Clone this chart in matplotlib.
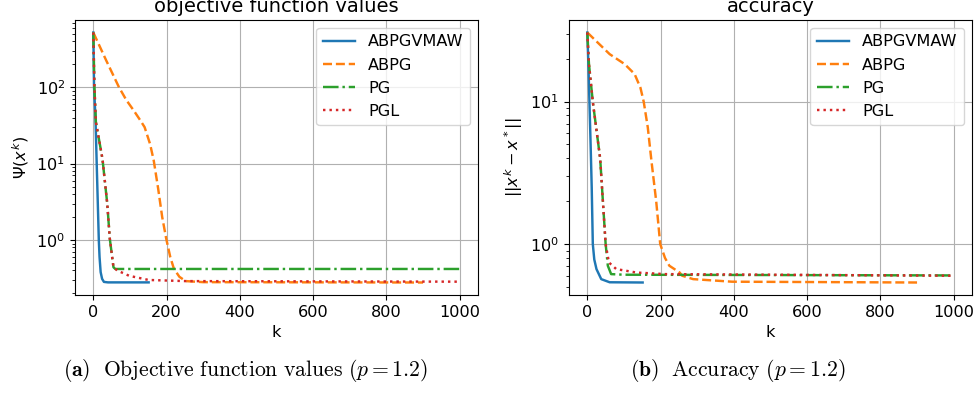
import matplotlib
matplotlib.use("Agg")
import matplotlib.pyplot as plt

# iteration counts and values (p = 1.2)
labels = ["ABPGVMAW", "ABPG", "PG", "PGL"]

# objective function values Psi(x^k)
obj_k_abpgvmaw = [0, 2, 6, 9, 15, 17, 20, 24, 29, 40, 151]
obj_v_abpgvmaw = [520, 100, 38, 11, 1.0, 0.6, 0.38, 0.31, 0.283, 0.279, 0.279]
obj_k_abpg = [0, 35, 70, 90, 111, 128, 140, 155, 165, 177, 188, 199, 210, 220, 235, 252, 300, 900]
obj_v_abpg = [520, 225, 100, 68, 49, 37, 30, 18, 10.9, 4.7, 2.0, 1.04, 0.6, 0.42, 0.33, 0.29, 0.281, 0.278]
obj_k_pg = [0, 3, 7, 25, 38, 45, 55, 60, 1000]
obj_v_pg = [520, 100, 35, 11.5, 3.0, 1.04, 0.44, 0.418, 0.418]
obj_k_pgl = [0, 3, 7, 25, 38, 45, 55, 65, 98, 151, 252, 1000]
obj_v_pgl = [520, 100, 35, 11.5, 3.0, 1.04, 0.44, 0.40, 0.34, 0.30, 0.29, 0.285]

# accuracy ||x^k - x^*||
acc_k_abpgvmaw = [0, 3, 9, 12, 15, 19, 25, 38, 61, 151]
acc_v_abpgvmaw = [30.5, 18, 5.0, 2.5, 1.0, 0.78, 0.668, 0.568, 0.54, 0.538]
acc_k_abpg = [0, 61, 102, 129, 145, 154, 165, 175, 188, 199, 212, 224, 252, 259, 289, 395, 900]
acc_v_abpg = [30.5, 21.5, 18.3, 15.6, 12.5, 9.95, 6.6, 3.84, 2.0, 1.0, 0.8, 0.705, 0.632, 0.60, 0.568, 0.545, 0.538]
acc_k_pg = [0, 4.5, 15, 35, 50, 56, 65, 100, 1000]
acc_v_pg = [30.5, 18.3, 9.95, 4.0, 1.0, 0.705, 0.616, 0.61, 0.603]
acc_k_pgl = [0, 4.5, 15, 35, 50, 59, 79, 134, 213, 1000]
acc_v_pgl = [30.5, 18.3, 9.95, 4.0, 1.0, 0.743, 0.668, 0.632, 0.616, 0.60]

colors = ["#1f77b4", "#ff7f0e", "#2ca02c", "#d62728"]
styles = ["-", "--", "-.", ":"]

plt.rcParams["font.size"] = 11.6
plt.rcParams["lines.linewidth"] = 1.75

W, H = 976, 394
fig = plt.figure(figsize=(W / 100, H / 100), dpi=100)
ax1 = fig.add_axes([75 / W, 1 - 295 / H, 403 / W, 275 / H])
ax2 = fig.add_axes([569 / W, 1 - 295 / H, 403 / W, 275 / H])

obj_series = [(obj_k_abpgvmaw, obj_v_abpgvmaw), (obj_k_abpg, obj_v_abpg),
              (obj_k_pg, obj_v_pg), (obj_k_pgl, obj_v_pgl)]
acc_series = [(acc_k_abpgvmaw, acc_v_abpgvmaw), (acc_k_abpg, acc_v_abpg),
              (acc_k_pg, acc_v_pg), (acc_k_pgl, acc_v_pgl)]

for ax, series in [(ax1, obj_series), (ax2, acc_series)]:
    for (k, v), lab, c, ls in zip(series, labels, colors, styles):
        ax.plot(k, v, color=c, linestyle=ls, label=lab)
    ax.set_yscale("log")
    ax.set_xticks([0, 200, 400, 600, 800, 1000])
    ax.set_xlabel("k")
    ax.grid(True)
    ax.legend(loc="upper right")

ax1.set_title("objective function values", fontsize=14)
ax1.set_ylabel(r"$\Psi(x^k)$")
ax2.set_title("accuracy", fontsize=14)
ax2.set_ylabel(r"$||x^k - x^*||$")

# subfigure captions
fig.text(245 / W, 1 - 371 / H,
         r"$\mathbf{(a)}\ \ \mathrm{Objective\ function\ values}\ (p = 1.2)$",
         ha="center", va="center", fontsize=15.6, math_fontfamily="cm")
fig.text(738 / W, 1 - 371 / H,
         r"$\mathbf{(b)}\ \ \mathrm{Accuracy}\ (p = 1.2)$",
         ha="center", va="center", fontsize=15.6, math_fontfamily="cm")

fig.savefig("out.png", dpi=100)
